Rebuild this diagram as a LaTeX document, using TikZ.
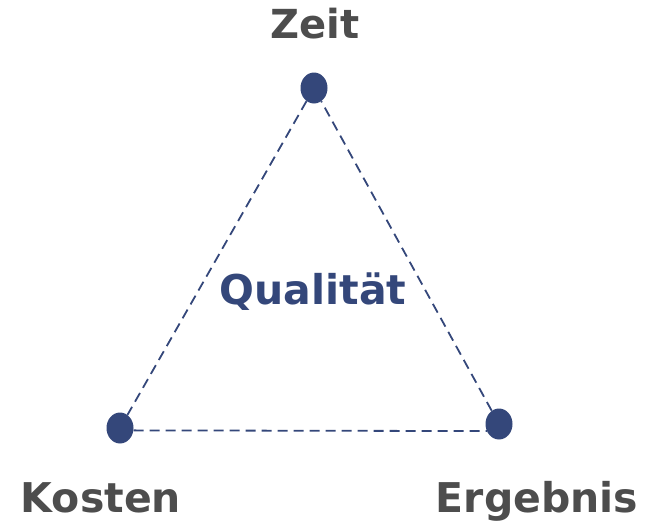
\documentclass[tikz,border=0pt]{standalone}
\usepackage{fontspec}
\setmainfont{DejaVu Sans}
\usetikzlibrary{shapes.geometric}
\definecolor{dotblue}{HTML}{34477A}
\definecolor{labgrey}{HTML}{4D4D4D}
\begin{document}
\begin{tikzpicture}[x=1pt,y=-1pt,
  dot/.style={ellipse,fill=dotblue,minimum width=27pt,minimum height=31pt,inner sep=0pt},
  lab/.style={text=labgrey,font=\fontsize{41}{41}\selectfont\bfseries,inner sep=0pt,anchor=base},
  edge/.style={draw=dotblue,line width=1.8pt,dash pattern=on 10pt off 6pt}]
\useasboundingbox (0,0) rectangle (660,522);
\node[dot] (t) at (314,88) {};
\node[dot] (k) at (120,428) {};
\node[dot] (e) at (499,424) {};
\draw[edge] (t) -- (k);
\draw[edge] (k.-10) -- (e.210);
\draw[edge] (e) -- (t);
\node[lab,font=\fontsize{40}{40}\selectfont\bfseries] (zeit) at (315,38) {Zeit};
\node[lab] (kosten) at (101,512) {Kosten};
\node[lab] (erg) at (537,512) {Ergebnis};
\node[lab,text=dotblue] (q) at (313,304) {Qualität};
\end{tikzpicture}
\end{document}
